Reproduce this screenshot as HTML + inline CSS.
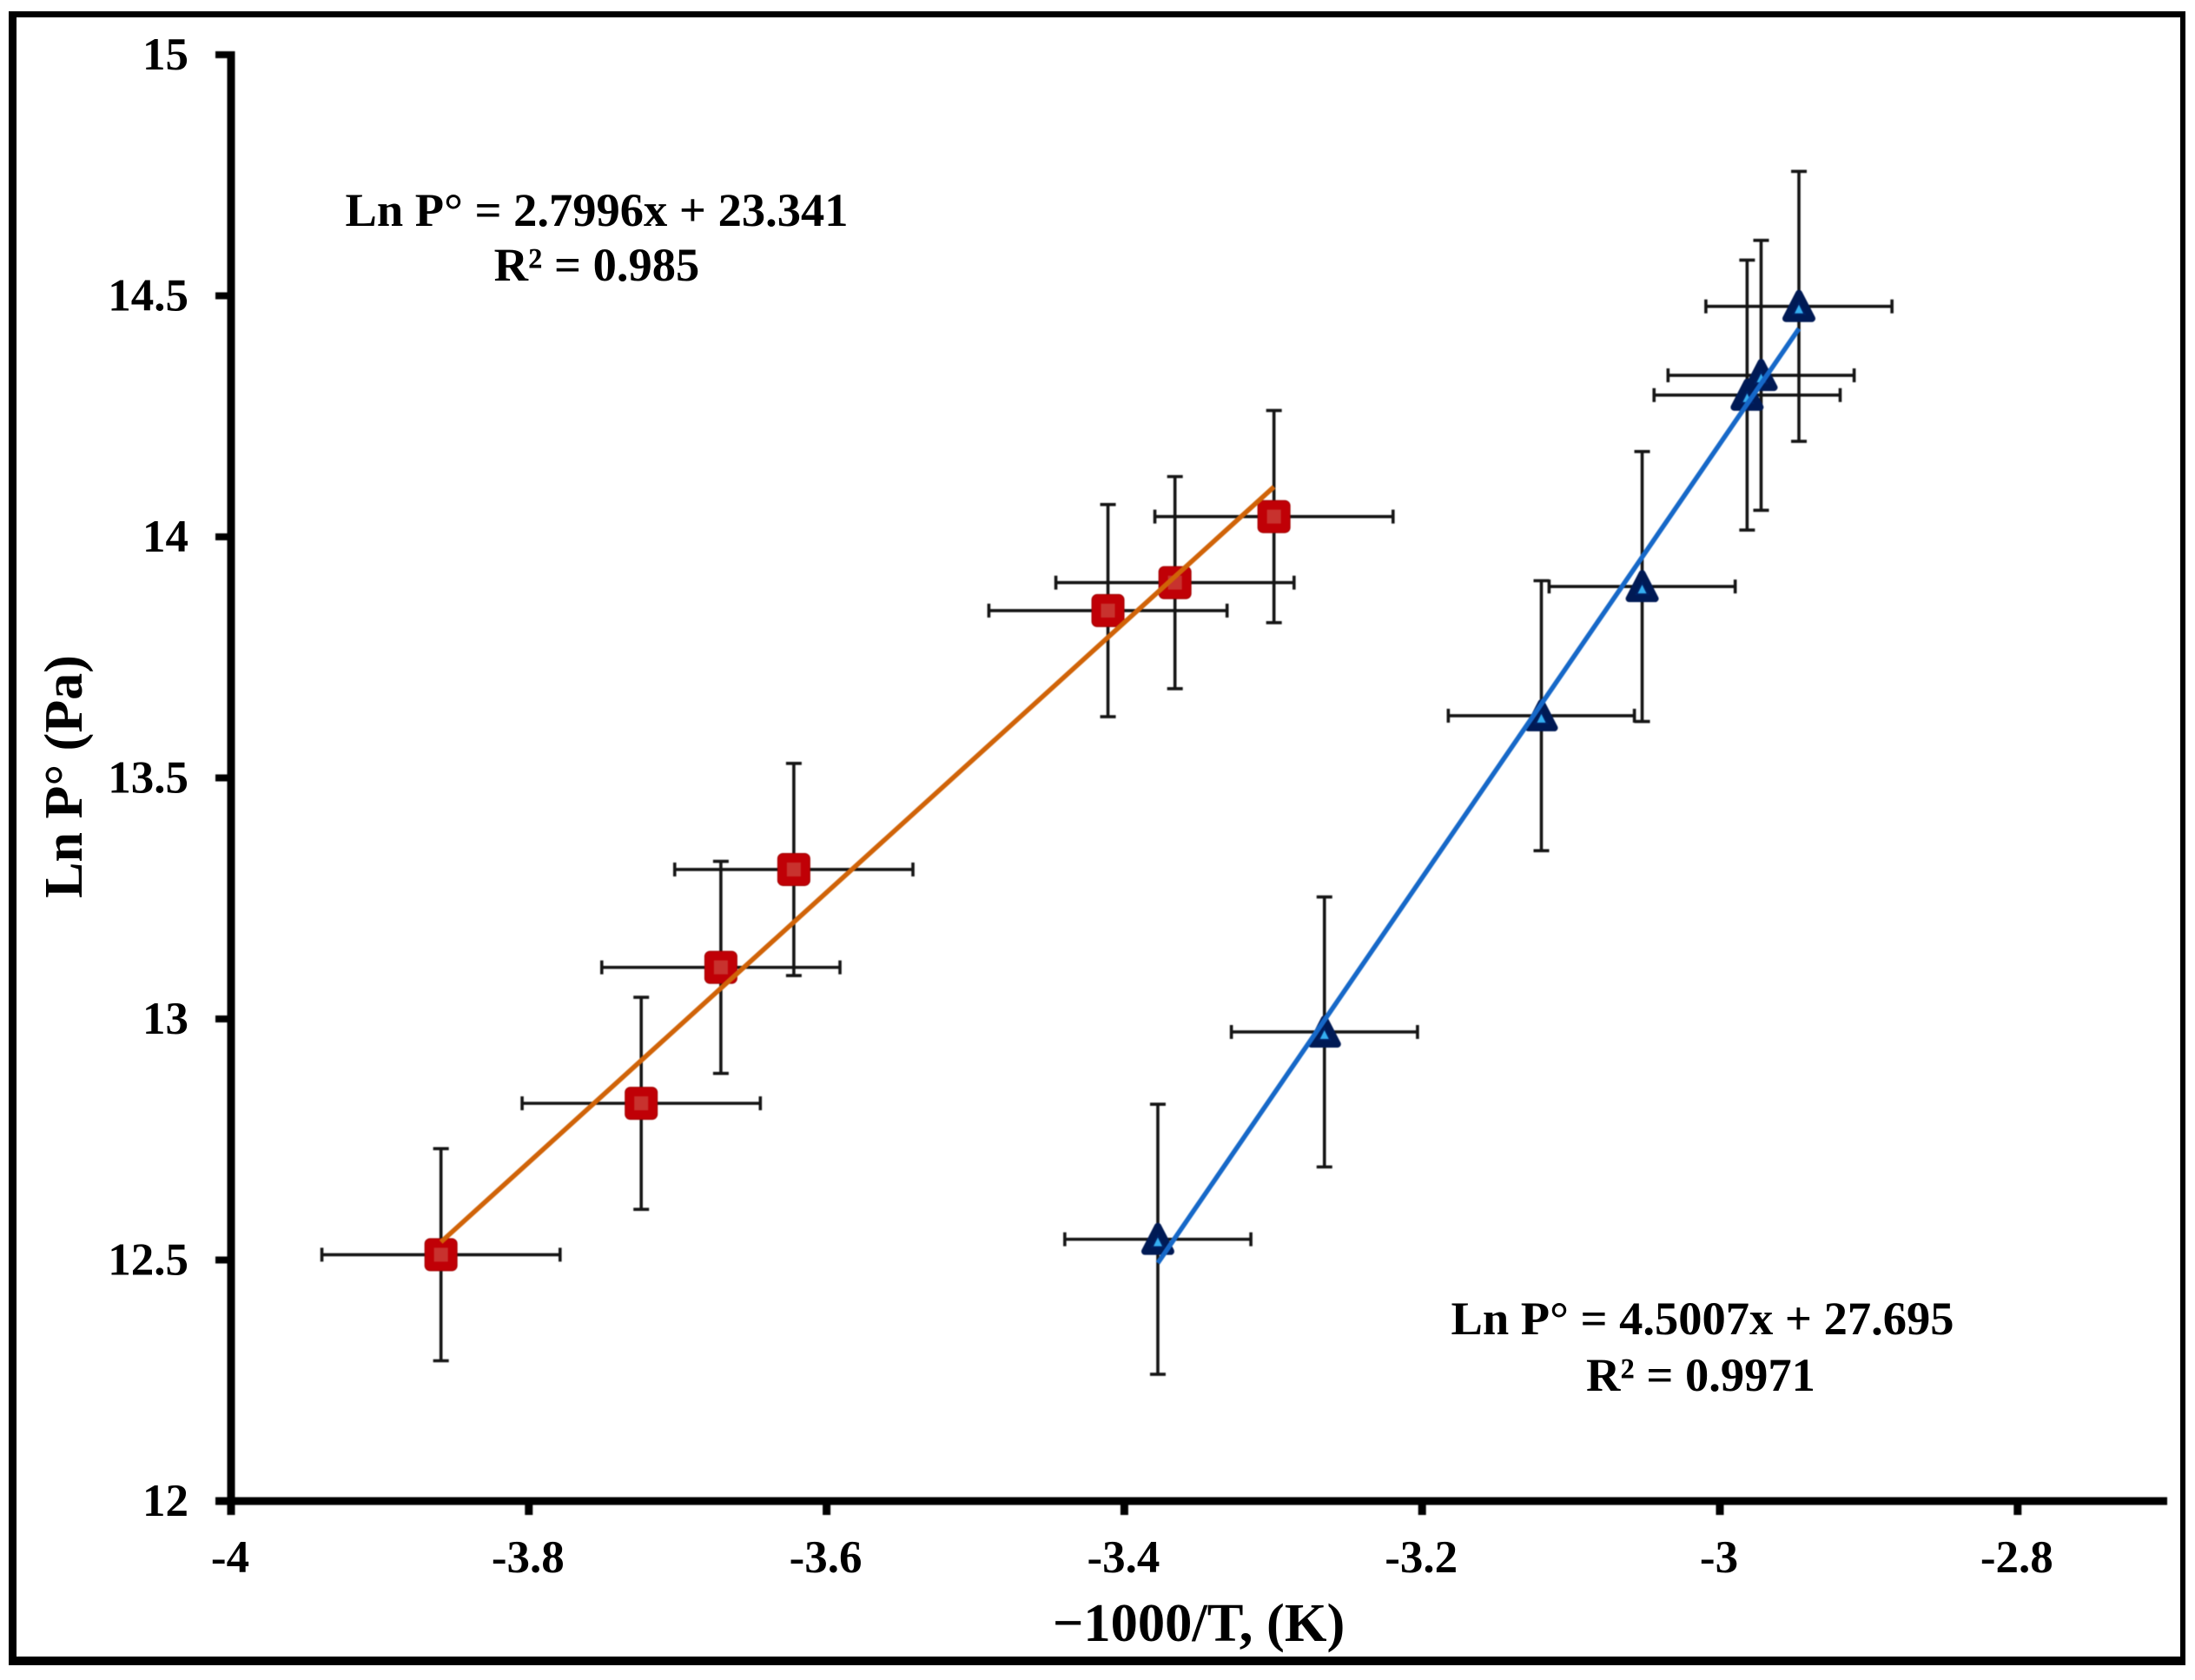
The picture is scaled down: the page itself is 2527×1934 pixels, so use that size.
<!DOCTYPE html>
<html lang="en">
<head>
<meta charset="utf-8">
<title>Ln P° vs −1000/T</title>
<style>
html,body{margin:0;padding:0;background:#fff;}
body{width:2527px;height:1934px;overflow:hidden;position:relative;}
#frame{position:absolute;left:10px;top:13px;width:2506px;height:1904px;box-sizing:border-box;border-style:solid;border-color:#000;border-width:7px 6px 10px 9px;}
#chart{position:absolute;left:0;top:0;}
text{font-family:"Liberation Serif",serif;font-weight:bold;fill:#000;}
</style>
</head>
<body>
<div id="frame"></div>
<svg id="chart" width="2527" height="1934" viewBox="0 0 2527 1934" xmlns="http://www.w3.org/2000/svg">
  <g id="plot" style="filter:blur(0.6px)"></g>
  <text x="1380" y="1889" font-size="62.5" text-anchor="middle">−1000/T, (K)</text>
  <text transform="translate(94,894) rotate(-90)" font-size="62" text-anchor="middle">Ln P° (Pa)</text>
  <text x="687" y="260" font-size="54.5" text-anchor="middle">Ln P° = 2.7996x + 23.341</text>
  <text x="687" y="323" font-size="54.5" text-anchor="middle">R² = 0.985</text>
  <text x="1960" y="1536" font-size="54.5" text-anchor="middle">Ln P° = 4.5007x + 27.695</text>
  <text x="1958" y="1601" font-size="54.5" text-anchor="middle">R² = 0.9971</text>
</svg>
<script>
const xTicks = [-4, -3.8, -3.6, -3.4, -3.2, -3, -2.8];
const yTicks = [12, 12.5, 13, 13.5, 14, 14.5, 15];
const redX = [-3.859, -3.7245, -3.671, -3.622, -3.411, -3.366, -3.2995];
const redY = [12.511, 12.825, 13.107, 13.31, 13.847, 13.905, 14.042];
const redXErr = [0.08, 0.08, 0.08, 0.08, 0.08, 0.08, 0.08];
const redYErr = [0.22, 0.22, 0.22, 0.22, 0.22, 0.22, 0.22];
const redFit = [2.7996, 23.341];
const blueX = [-3.3775, -3.2656, -3.1199, -3.0522, -2.9817, -2.9723, -2.9469];
const blueY = [12.543, 12.973, 13.629, 13.897, 14.294, 14.335, 14.478];
const blueXErr = [0.0625, 0.0625, 0.0625, 0.0625, 0.0625, 0.0625, 0.0625];
const blueYErr = [0.28, 0.28, 0.28, 0.28, 0.28, 0.28, 0.28];
const blueFit = [4.5007, 27.695];

const NS = 'http://www.w3.org/2000/svg';
const plot = document.getElementById('plot');
const chart = document.getElementById('chart');
function sx(v) { return 266 + (v + 4) * 1714; }
function sy(v) { return 63 + (15 - v) * 555; }
function make(tag, parent, attrs) {
  const el = document.createElementNS(NS, tag);
  for (const k in attrs) el.setAttribute(k, attrs[k]);
  parent.appendChild(el);
  return el;
}
function seg(parent, x1, y1, x2, y2, color, w) {
  return make('line', parent, {x1: x1, y1: y1, x2: x2, y2: y2, stroke: color, 'stroke-width': w});
}

/* axes */
const yAxisLine = seg(plot, sx(-4), sy(15) - 4, sx(-4), 1744, '#000', 9);


const xAxisLine = seg(plot, 248, sy(12), 2495, sy(12), '#000', 9);



yTicks.forEach(function (t) {
  const mark = seg(plot, 248, sy(t), sx(-4), sy(t), '#000', 8);
  
  
  const label = make('text', chart, {x: 217, y: sy(t) + 17, 'font-size': 53, 'text-anchor': 'end'});
  label.textContent = String(t);
  
  
});
xTicks.forEach(function (t) {
  const mark = seg(plot, sx(t), sy(12), sx(t), 1744, '#000', 9);
  
  
  const label = make('text', chart, {x: sx(t) - 1, y: 1810, 'font-size': 53, 'text-anchor': 'middle'});
  label.textContent = String(t);
  
  
});

/* error bars */
function drawErrors(xs, ys, xe, ye, name) {
  xs.forEach(function (x, i) {
    const g = make('g', plot, {});
    
    
    const px = sx(x), py = sy(ys[i]);
    const l = sx(x - xe[i]), r = sx(x + xe[i]);
    const t = sy(ys[i] + ye[i]), b = sy(ys[i] - ye[i]);
    seg(g, l, py, r, py, '#151515', 3.6);
    seg(g, l, py - 8, l, py + 8, '#151515', 3.6);
    seg(g, r, py - 8, r, py + 8, '#151515', 3.6);
    seg(g, px, t, px, b, '#151515', 3.6);
    seg(g, px - 9, t, px + 9, t, '#151515', 3.6);
    seg(g, px - 9, b, px + 9, b, '#151515', 3.6);
  });
}
drawErrors(redX, redY, redXErr, redYErr, 'red-series');
drawErrors(blueX, blueY, blueXErr, blueYErr, 'blue-series');

/* markers */
redX.forEach(function (x, i) {
  const g = make('g', plot, {});
  
  
  const px = sx(x), py = sy(redY[i]);
  make('rect', g, {x: px - 18.5, y: py - 18.5, width: 37, height: 37, rx: 6, fill: '#c00006', stroke: '#a00000', 'stroke-width': 1});
  make('rect', g, {x: px - 8, y: py - 8, width: 16, height: 16, fill: '#c8322e'});
});
blueX.forEach(function (x, i) {
  const g = make('g', plot, {});
  
  
  const px = sx(x), py = sy(blueY[i]);
  const tri = [px, py - 15, px + 15, py + 14, px - 15, py + 14].join(' ');
  make('polygon', g, {points: tri, fill: '#001f63', stroke: '#001a55', 'stroke-width': 8, 'stroke-linejoin': 'round'});
  const inner = [px, py - 2, px + 5, py + 8, px - 5, py + 8].join(' ');
  make('polygon', g, {points: inner, fill: '#35aef0'});
});

/* trend lines */
function drawFit(xs, fit, color, name) {
  const lo = Math.min.apply(null, xs), hi = Math.max.apply(null, xs);
  const line = seg(plot, sx(lo), sy(fit[0] * lo + fit[1]), sx(hi), sy(fit[0] * hi + fit[1]), color, 5.5);
  
  
}
drawFit(redX, redFit, '#d06308', 'red-trend-line');
drawFit(blueX, blueFit, '#1668c8', 'blue-trend-line');
</script>
</body>
</html>
